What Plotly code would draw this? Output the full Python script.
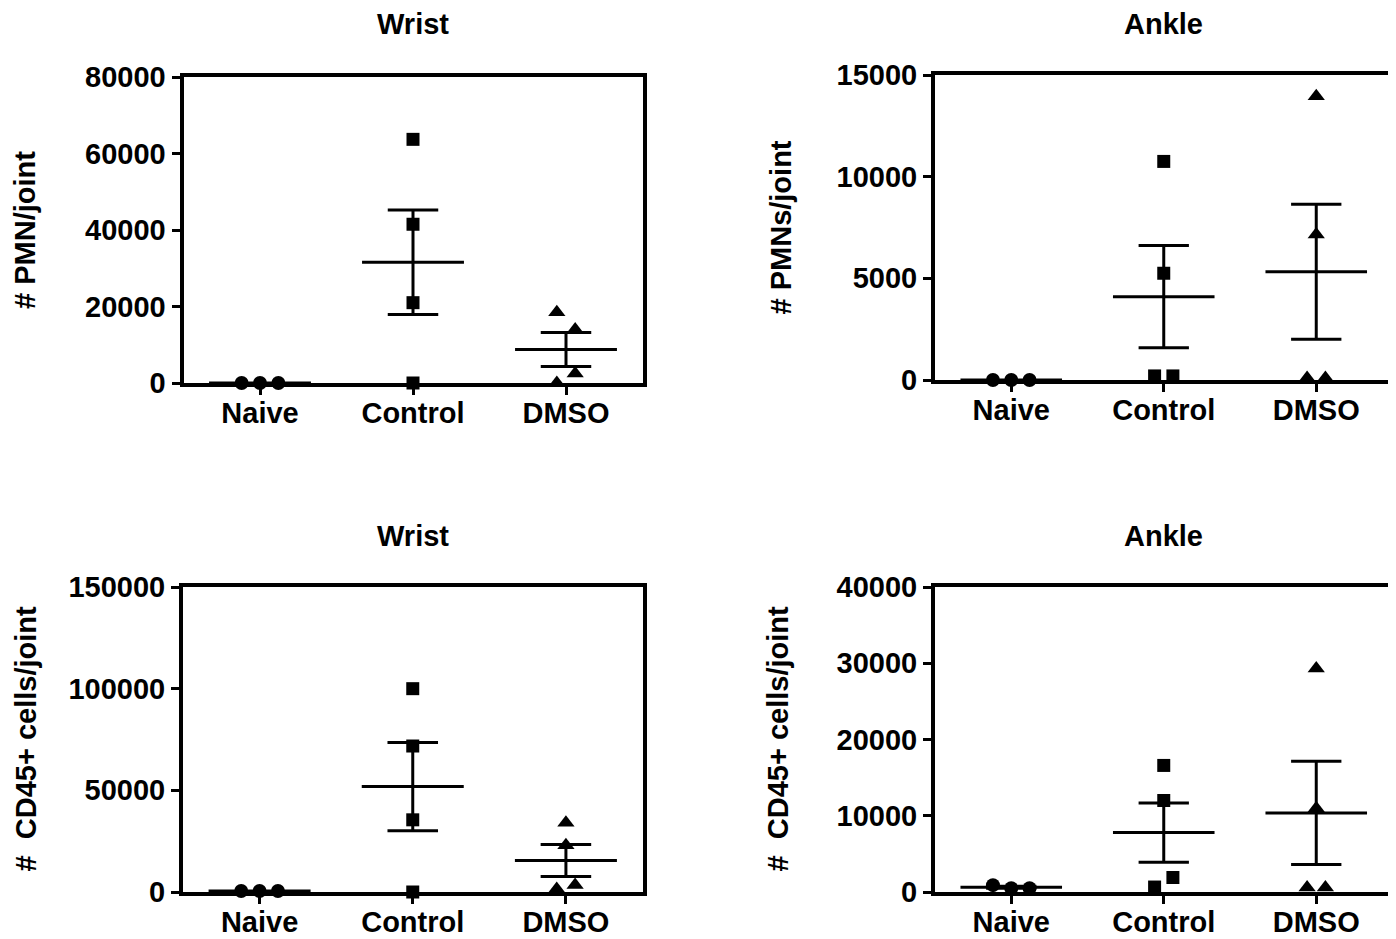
import numpy as np
import plotly.graph_objects as go

# ---------------- data ----------------
groups = ["Naive", "Control", "DMSO"]

wrist_pmn_naive = [0, 0, 0]
wrist_pmn_control = [63700, 41500, 21000, 0]
wrist_pmn_dmso = [18500, 14000, 2500, 0]

ankle_pmn_naive = [0, 0, 0]
ankle_pmn_control = [10750, 5250, 200, 200]
ankle_pmn_dmso = [13950, 7150, 100, 100]

wrist_cd45_naive = [500, 500, 500]
wrist_cd45_control = [100000, 71800, 35500, 0]
wrist_cd45_dmso = [34000, 23000, 1500, 3500]

ankle_cd45_naive = [900, 500, 500]
ankle_cd45_control = [16600, 12000, 1900, 650]
ankle_cd45_dmso = [29300, 11000, 600, 600]

panel_titles = ["Wrist", "Ankle", "Wrist", "Ankle"]
y_titles = ["# PMN/joint", "# PMNs/joint", "#  CD45+ cells/joint", "#  CD45+ cells/joint"]
y_max = [80000, 15000, 150000, 40000]
y_step = [20000, 5000, 50000, 10000]

# ---------------- layout constants ----------------
PAGE_W, PAGE_H = 1396, 939
OFFX, OFFY = 8, 8  # page body margin compensation
W, H = PAGE_W - OFFX, PAGE_H - OFFY
FONT = "Liberation Sans"
FS = 29


def fx(px):
    return min(1.0, max(0.0, (px - OFFX) / W))


def fy(py):
    return min(1.0, max(0.0, 1 - (py - OFFY) / H))


# jitter offsets (category units) for column-scatter placement
jit_naive = [-0.12, 0.0, 0.12]
panels = [
    dict(data=[wrist_pmn_naive, wrist_pmn_control, wrist_pmn_dmso],
         jit=[jit_naive, [0, 0, 0, 0], [-0.06, 0.06, 0.06, -0.06]],
         px=(183.5, 642.5), py=(77, 383), ytx=25, tty=24),
    dict(data=[ankle_pmn_naive, ankle_pmn_control, ankle_pmn_dmso],
         jit=[jit_naive, [0, 0, -0.06, 0.06], [0, 0, -0.06, 0.06]],
         px=(935, 1392.5), py=(75, 380), ytx=780, tty=24),
    dict(data=[wrist_cd45_naive, wrist_cd45_control, wrist_cd45_dmso],
         jit=[jit_naive, [0, 0, 0, 0], [0, 0, -0.06, 0.06]],
         px=(183, 642.5), py=(587, 892), ytx=25, tty=536),
    dict(data=[ankle_cd45_naive, ankle_cd45_control, ankle_cd45_dmso],
         jit=[jit_naive, [0, 0, 0.06, -0.06], [0, 0, -0.06, 0.06]],
         px=(935, 1392.5), py=(587, 892), ytx=777, tty=536),
]
symbols = ["circle", "square", "triangle-up"]
msizes = [14, 13, 15]
MEAN_HW = 0.333
CAP_HW = 0.165

fig = go.Figure()
annotations = []
layout = {}

for i, p in enumerate(panels):
    k = "" if i == 0 else str(i + 1)
    xa, ya = "x" + k, "y" + k
    for g, vals in enumerate(p["data"]):
        v = np.array(vals, dtype=float)
        xs = [g + o for o in p["jit"][g]]
        fig.add_trace(go.Scatter(
            x=xs, y=v, mode="markers", xaxis=xa, yaxis=ya, cliponaxis=False,
            marker=dict(symbol=symbols[g], size=msizes[g], color="black"),
            showlegend=False, hoverinfo="y"))
        m = v.mean()
        s = v.std(ddof=1) / np.sqrt(len(v))
        # mean line
        fig.add_trace(go.Scatter(
            x=[g - MEAN_HW, g + MEAN_HW], y=[m, m], mode="lines",
            xaxis=xa, yaxis=ya, cliponaxis=False,
            line=dict(color="black", width=3), showlegend=False, hoverinfo="skip"))
        if s > 0:
            # SEM whisker and caps
            fig.add_trace(go.Scatter(
                x=[g, g, None, g - CAP_HW, g + CAP_HW, None, g - CAP_HW, g + CAP_HW],
                y=[m - s, m + s, None, m + s, m + s, None, m - s, m - s],
                mode="lines", xaxis=xa, yaxis=ya, cliponaxis=False,
                line=dict(color="black", width=3), showlegend=False, hoverinfo="skip"))

    x0, x1 = p["px"]
    y0, y1 = p["py"]
    layout["xaxis" + k] = dict(
        domain=[fx(x0), fx(x1)], anchor=ya, range=[-0.5, 2.5], automargin=False,
        tickvals=[0, 1, 2], ticktext=groups, ticks="outside", ticklen=8,
        tickwidth=3, tickcolor="black", showline=True, linewidth=4,
        linecolor="black", mirror=True, showgrid=False, zeroline=False,
        ticklabelstandoff=-7,
        tickfont=dict(family=FONT, size=FS, color="black", weight="bold"))
    layout["yaxis" + k] = dict(
        domain=[fy(y1), fy(y0)], anchor=xa, range=[0, y_max[i]],
        automargin=False, tickformat="d",
        dtick=y_step[i], tick0=0, ticks="outside", ticklen=8, tickwidth=3,
        tickcolor="black", showline=True, linewidth=4, linecolor="black",
        mirror=True, showgrid=False, zeroline=False,
        tickfont=dict(family=FONT, size=FS, color="black", weight="bold"))
    annotations.append(dict(
        text="<b>%s</b>" % panel_titles[i], xref="paper", yref="paper",
        x=fx(x0 + (x1 - x0) / 2), y=fy(p["tty"]), showarrow=False,
        xanchor="center", yanchor="middle",
        font=dict(family=FONT, size=FS, color="black")))
    annotations.append(dict(
        text="<b>%s</b>" % y_titles[i], xref="paper", yref="paper",
        x=fx(p["ytx"]), y=fy((y0 + y1) / 2), showarrow=False,
        textangle=-90, xanchor="center", yanchor="middle",
        font=dict(family=FONT, size=FS, color="black")))

fig.update_layout(
    width=W, height=H, margin=dict(l=0, r=0, t=0, b=0),
    paper_bgcolor="white", plot_bgcolor="white",
    annotations=annotations, showlegend=False, **layout)

fig.write_html("out.html")
